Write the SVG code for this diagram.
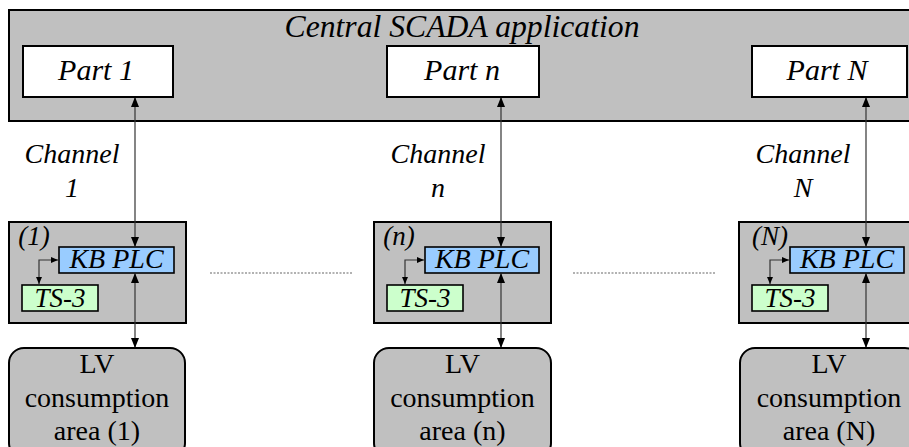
<svg xmlns="http://www.w3.org/2000/svg" width="909" height="447" viewBox="0 0 909 447">
<style>
.box{fill:#c0c0c0;stroke:#000;stroke-width:2}
.part{fill:#fff;stroke:#000;stroke-width:2}
.plc{fill:#99ccff;stroke:#000;stroke-width:1.6}
.ts{fill:#ccffcc;stroke:#000;stroke-width:1.6}
.rt{font-family:"Liberation Serif",serif;fill:#000;font-size:28px;text-anchor:middle}
.t31{font-family:"Liberation Serif",serif;font-style:italic;fill:#000;font-size:31px;text-anchor:middle}
.t30{font-family:"Liberation Serif",serif;font-style:italic;fill:#000;font-size:30px;text-anchor:middle}
.t28{font-family:"Liberation Serif",serif;font-style:italic;fill:#000;font-size:28px;text-anchor:middle}
.t27{font-family:"Liberation Serif",serif;font-style:italic;fill:#000;font-size:27px;text-anchor:middle}
.ln{stroke:#333;stroke-width:1.2;fill:none}
.dot{stroke:#666;stroke-width:1.2;stroke-dasharray:2 1.5;fill:none}
</style>
<defs>
<marker id="ah" markerWidth="10" markerHeight="8" refX="9" refY="4" orient="auto-start-reverse" markerUnits="userSpaceOnUse">
<path d="M0,0 L10,4 L0,8 Z" fill="#000"/>
</marker>
<marker id="as" markerWidth="7" markerHeight="6" refX="7" refY="3" orient="auto-start-reverse" markerUnits="userSpaceOnUse">
<path d="M0,0 L7,3 L0,6 Z" fill="#000"/>
</marker>
</defs>

<g id="scada">
<rect class="box" x="9" y="10" width="906" height="111"/>
<text class="t31" x="462" y="37" textLength="355" lengthAdjust="spacingAndGlyphs">Central SCADA application</text>
</g>
<g id="part1">
<rect class="part" x="23" y="46" width="150" height="51"/>
<text class="t30" x="96" y="80">Part 1</text>
</g>
<g id="partn">
<rect class="part" x="387" y="46" width="152" height="51"/>
<text class="t30" x="462" y="80">Part n</text>
</g>
<g id="partN">
<rect class="part" x="752" y="46" width="155" height="51"/>
<text class="t30" x="827" y="80">Part N</text>
</g>

<g id="channel1">
<text class="t28" x="72" y="163">Channel</text>
<text class="t28" x="72" y="197">1</text>
</g>
<g id="channeln">
<text class="t28" x="438" y="163">Channel</text>
<text class="t28" x="438" y="197">n</text>
</g>
<g id="channelN">
<text class="t28" x="803" y="163">Channel</text>
<text class="t28" x="803" y="197">N</text>
</g>

<g id="module1">
<rect class="box" x="9" y="222" width="177" height="101"/>
<text class="t27" x="34" y="245">(1)</text>
</g>
<g id="plc1">
<rect class="plc" x="59" y="247" width="115" height="26"/>
<text class="t28" x="116.5" y="268">KB PLC</text>
</g>
<g id="ts1">
<rect class="ts" x="22" y="285" width="76" height="26"/>
<text class="t27" x="60" y="307">TS-3</text>
</g>
<g id="lv1">
<rect class="box" x="9" y="348" width="176" height="110" rx="15"/>
<text class="rt" x="97" y="373">LV</text>
<text class="rt" x="97" y="407">consumption</text>
<text class="rt" x="97" y="440">area (1)</text>
</g>

<g id="modulen">
<rect class="box" x="374" y="222" width="177" height="101"/>
<text class="t27" x="399" y="245">(n)</text>
</g>
<g id="plcn">
<rect class="plc" x="425" y="247" width="114" height="26"/>
<text class="t28" x="482" y="268">KB PLC</text>
</g>
<g id="tsn">
<rect class="ts" x="387" y="285" width="76" height="26"/>
<text class="t27" x="425" y="307">TS-3</text>
</g>
<g id="lvn">
<rect class="box" x="374" y="348" width="177" height="110" rx="15"/>
<text class="rt" x="462.5" y="373">LV</text>
<text class="rt" x="462.5" y="407">consumption</text>
<text class="rt" x="462.5" y="440">area (n)</text>
</g>

<g id="moduleN">
<rect class="box" x="739" y="222" width="180" height="101"/>
<text class="t27" x="770" y="245">(N)</text>
</g>
<g id="plcN">
<rect class="plc" x="790" y="247" width="114" height="26"/>
<text class="t28" x="847" y="268">KB PLC</text>
</g>
<g id="tsN">
<rect class="ts" x="752" y="285" width="76" height="26"/>
<text class="t27" x="790" y="307">TS-3</text>
</g>
<g id="lvN">
<rect class="box" x="740" y="348" width="180" height="110" rx="15"/>
<text class="rt" x="829" y="373">LV</text>
<text class="rt" x="829" y="407">consumption</text>
<text class="rt" x="829" y="440">area (N)</text>
</g>

<g id="connectors">
<line class="ln" x1="135" y1="98" x2="135" y2="246" marker-start="url(#ah)" marker-end="url(#ah)"/>
<line class="ln" x1="135" y1="274" x2="135" y2="347" marker-start="url(#ah)" marker-end="url(#ah)"/>
<path class="ln" d="M58,260 H39 V284" marker-start="url(#as)" marker-end="url(#as)"/>

<line class="ln" x1="501" y1="98" x2="501" y2="246" marker-start="url(#ah)" marker-end="url(#ah)"/>
<line class="ln" x1="501" y1="274" x2="501" y2="347" marker-start="url(#ah)" marker-end="url(#ah)"/>
<path class="ln" d="M424,260 H405 V284" marker-start="url(#as)" marker-end="url(#as)"/>

<line class="ln" x1="866" y1="98" x2="866" y2="246" marker-start="url(#ah)" marker-end="url(#ah)"/>
<line class="ln" x1="866" y1="274" x2="866" y2="347" marker-start="url(#ah)" marker-end="url(#ah)"/>
<path class="ln" d="M789,260 H770 V284" marker-start="url(#as)" marker-end="url(#as)"/>

<line class="dot" x1="210" y1="273" x2="352" y2="273"/>
<line class="dot" x1="573" y1="273" x2="715" y2="273"/>
</g>
</svg>
